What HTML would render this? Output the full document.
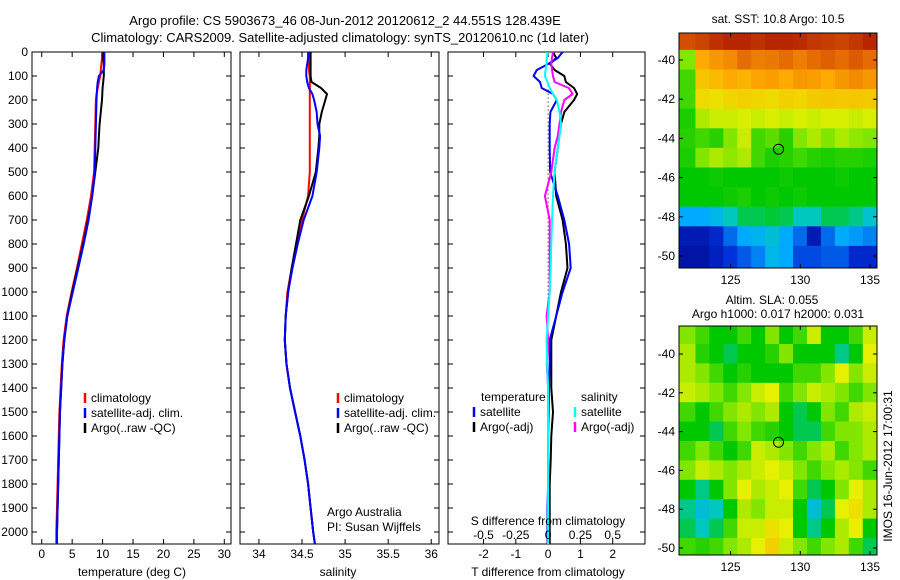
<!DOCTYPE html>
<html><head><meta charset="utf-8">
<style>
html,body{margin:0;padding:0;background:#fff;}
svg{display:block;font-family:"Liberation Sans",sans-serif;}
</style></head>
<body>
<svg id="fig" width="900" height="580" viewBox="0 0 900 580" xmlns="http://www.w3.org/2000/svg">
<text x="345" y="25" font-size="13" text-anchor="middle">Argo profile: CS 5903673_46 08-Jun-2012 20120612_2 44.551S 128.439E</text>
<text x="340" y="42" font-size="13" text-anchor="middle">Climatology: CARS2009. Satellite-adjusted climatology: synTS_20120610.nc (1d later)</text>
<g id="g"></g>
</svg>
<script>
// ---- data ----
const depths = [0,25,50,75,100,125,150,175,200,250,300,350,400,500,600,700,800,900,1000,1100,1200,1300,1400,1500,1600,1700,1800,1900,2000,2050];
const tempClim = [9.9,9.9,9.8,9.7,9.6,9.4,9.2,9.0,8.9,8.85,8.8,8.75,8.7,8.6,8.1,7.4,6.6,5.8,4.9,4.1,3.6,3.3,3.1,2.9,2.8,2.7,2.6,2.5,2.4,2.4];
const tempArgo = [10.1,10.1,10.2,10.2,10.2,10.1,10.0,9.95,9.9,9.7,9.5,9.4,9.3,8.8,8.3,7.6,6.8,5.9,5.0,4.2,3.7,3.4,3.2,3.0,2.9,2.8,2.7,2.6,2.5,2.5];
const tempSat = [10.3,10.3,10.3,10.2,9.4,9.2,9.1,9.05,9.0,8.95,8.9,8.85,8.8,8.7,8.3,7.7,6.9,6.0,5.1,4.2,3.7,3.4,3.2,3.0,2.9,2.8,2.7,2.6,2.5,2.5];
const salClim = [34.58,34.58,34.58,34.58,34.59,34.59,34.59,34.59,34.59,34.59,34.59,34.59,34.59,34.59,34.57,34.50,34.44,34.38,34.33,34.31,34.30,34.32,34.36,34.42,34.48,34.53,34.57,34.60,34.63,34.65];
const salArgo = [34.60,34.60,34.60,34.60,34.60,34.61,34.72,34.79,34.77,34.73,34.70,34.70,34.69,34.66,34.58,34.48,34.43,34.38,34.34,34.31,34.30,34.32,34.36,34.42,34.48,34.53,34.57,34.60,34.63,34.65];
const salSat = [34.57,34.57,34.56,34.55,34.55,34.56,34.58,34.62,34.64,34.67,34.68,34.71,34.70,34.67,34.62,34.52,34.45,34.39,34.34,34.31,34.30,34.32,34.36,34.42,34.48,34.53,34.57,34.60,34.63,34.65];
const dTsat = [0.45,0.3,0.0,-0.35,-0.45,-0.25,-0.2,0.15,0.27,0.07,0.05,0.05,0.05,0.06,0.3,0.5,0.65,0.7,0.45,0.25,0.05,0.05,0.03,0.02,0.0,0.0,0.0,-0.02,-0.02,-0.02];
const dTargo = [0.15,0.25,0.06,0.2,0.5,0.55,0.8,0.9,0.8,0.5,0.4,0.35,0.3,0.2,0.25,0.45,0.55,0.6,0.4,0.25,0.1,0.1,0.1,0.15,0.1,0.08,0.05,0.05,0.05,0.05];
const dSsat = [-0.005,-0.01,-0.012,-0.02,-0.025,-0.005,0.012,0.038,0.068,0.088,0.1,0.088,0.075,0.05,0.038,0.03,0.025,0.02,0.012,0,-0.012,-0.008,0,0,0,0,0,0,0,0];
const dSargo = [0.038,0.03,0.025,0.03,0.038,0.05,0.16,0.19,0.125,0.1,0.088,0.075,0.05,0.025,-0.025,0.012,0.012,0.012,0.012,-0.012,0,-0.01,0,0,0,0,0,0,0,0];
const depthTicks = [0,100,200,300,400,500,600,700,800,900,1000,1100,1200,1300,1400,1500,1600,1700,1800,1900,2000];
const tempTicks = [0,5,10,15,20,25,30];
const salTicks = [34,34.5,35,35.5,36];
const tdTicks = [-2,-1,0,1,2];
const sdTicks = [-0.5,-0.25,0,0.25,0.5];
const latTicks = [-40,-42,-44,-46,-48,-50];
const lonTicks = [125,130,135];
// map grids: rows lat -39..-50, cols lon 122..135 (colormap fraction)
const sstGrid = [
[0.9,0.92,0.95,0.97,0.97,0.95,0.97,0.97,0.96,0.94,0.93,0.92,0.94,0.97],
[0.55,0.75,0.78,0.8,0.85,0.82,0.83,0.85,0.82,0.85,0.87,0.85,0.88,0.85],
[0.5,0.7,0.72,0.75,0.73,0.76,0.77,0.75,0.78,0.77,0.75,0.78,0.8,0.78],
[0.5,0.66,0.65,0.67,0.68,0.67,0.66,0.68,0.67,0.69,0.7,0.69,0.7,0.69],
[0.47,0.58,0.6,0.6,0.61,0.6,0.61,0.6,0.61,0.6,0.61,0.61,0.6,0.61],
[0.48,0.5,0.48,0.55,0.6,0.5,0.52,0.48,0.55,0.58,0.55,0.58,0.56,0.55],
[0.47,0.55,0.58,0.56,0.58,0.5,0.47,0.48,0.5,0.48,0.47,0.48,0.48,0.47],
[0.45,0.45,0.46,0.45,0.45,0.45,0.45,0.46,0.45,0.45,0.45,0.46,0.45,0.45],
[0.45,0.45,0.45,0.46,0.47,0.45,0.46,0.45,0.46,0.45,0.45,0.45,0.45,0.45],
[0.3,0.3,0.33,0.38,0.42,0.42,0.43,0.42,0.38,0.38,0.42,0.42,0.4,0.36],
[0.08,0.08,0.12,0.22,0.3,0.32,0.35,0.3,0.22,0.08,0.22,0.3,0.28,0.25],
[0.06,0.06,0.1,0.15,0.2,0.25,0.33,0.3,0.18,0.18,0.2,0.2,0.12,0.12]];
const slaGrid = [
[0.55,0.5,0.45,0.45,0.5,0.45,0.55,0.45,0.5,0.6,0.45,0.45,0.5,0.6],
[0.58,0.48,0.45,0.42,0.45,0.45,0.48,0.55,0.45,0.45,0.45,0.4,0.45,0.62],
[0.58,0.55,0.5,0.45,0.48,0.45,0.45,0.45,0.5,0.5,0.55,0.62,0.55,0.6],
[0.6,0.58,0.55,0.5,0.55,0.6,0.62,0.5,0.55,0.6,0.58,0.55,0.5,0.55],
[0.5,0.45,0.5,0.55,0.58,0.55,0.58,0.45,0.42,0.45,0.55,0.5,0.58,0.6],
[0.45,0.45,0.42,0.5,0.55,0.5,0.48,0.45,0.42,0.42,0.5,0.55,0.55,0.58],
[0.5,0.55,0.5,0.45,0.5,0.6,0.58,0.55,0.5,0.55,0.58,0.5,0.55,0.58],
[0.55,0.6,0.58,0.55,0.58,0.6,0.62,0.6,0.55,0.5,0.55,0.58,0.55,0.5],
[0.45,0.4,0.45,0.55,0.62,0.58,0.6,0.62,0.5,0.42,0.45,0.55,0.62,0.58],
[0.4,0.35,0.38,0.45,0.58,0.55,0.6,0.6,0.45,0.35,0.42,0.62,0.65,0.58],
[0.42,0.38,0.42,0.5,0.6,0.6,0.65,0.62,0.45,0.4,0.45,0.58,0.62,0.45],
[0.5,0.48,0.5,0.55,0.58,0.62,0.68,0.6,0.55,0.5,0.55,0.58,0.5,0.42]];
const argoLat = -44.551, argoLon = 128.439;

// ---- drawing ----
const NS = "http://www.w3.org/2000/svg";
const G = document.getElementById('g');
function el(tag, attrs, parent){const e=document.createElementNS(NS,tag);for(const k in attrs)e.setAttribute(k,attrs[k]);(parent||G).appendChild(e);return e;}
function txt(x,y,s,anchor,size){const t=el('text',{x:x,y:y,'font-size':size||12,'text-anchor':anchor||'middle'});t.textContent=s;return t;}

const PT=52, PB=544;
const yD = d => PT + (d/2050)*(PB-PT);

function panel(name,x0,x1,xmin,xmax,ticks,fmt){
  const xs = v => x0 + (v-xmin)/(xmax-xmin)*(x1-x0);
  const r = el('rect',{x:x0,y:PT,width:x1-x0,height:PB-PT,fill:'none',stroke:'#000','stroke-width':1});
  
  
  depthTicks.forEach(d=>{
    el('line',{x1:x0,x2:x0+5,y1:yD(d),y2:yD(d),stroke:'#000'});
    el('line',{x1:x1-5,x2:x1,y1:yD(d),y2:yD(d),stroke:'#000'});
  });
  ticks.forEach(v=>{
    el('line',{x1:xs(v),x2:xs(v),y1:PB,y2:PB-5,stroke:'#000'});
    el('line',{x1:xs(v),x2:xs(v),y1:PT,y2:PT+5,stroke:'#000'});
    const t=txt(xs(v),558,fmt?fmt(v):String(v));
    
    
  });
  return xs;
}
function line(xs,vals,color,name,w){
  const pts = vals.map((v,i)=>xs(v).toFixed(1)+','+yD(depths[i]).toFixed(1)).join(' ');
  const p = el('polyline',{points:pts,fill:'none',stroke:color,'stroke-width':w||2,'stroke-linejoin':'round'});
  
  
}
function legend(x,y,items){
  items.forEach((it,i)=>{
    el('line',{x1:x,x2:x,y1:y+i*15-9,y2:y+i*15+1,stroke:it[0],'stroke-width':2.5});
    const t=txt(x+6,y+i*15,it[1],'start',12);
    
    
  });
}

depthTicks.forEach(d=>{
  const t=txt(28,yD(d)+4,String(d),'end',12);
  
  
});

// panel 1 temperature
const xT = panel('temperature-panel',32,231,-1.6,31.1,tempTicks);
line(xT,tempClim,'#f00','temp-climatology-line');
line(xT,tempArgo,'#000','temp-argo-line');
line(xT,tempSat,'#00f','temp-satellite-line');
legend(85,402,[['#f00','climatology'],['#00f','satellite-adj. clim.'],['#000','Argo(..raw -QC)']]);
let t=txt(132,576,'temperature (deg C)');  

// panel 2 salinity
const xS = panel('salinity-panel',240,439,33.78,36.09,salTicks);
line(xS,salClim,'#f00','sal-climatology-line');
line(xS,salArgo,'#000','sal-argo-line');
line(xS,salSat,'#00f','sal-satellite-line');
legend(338,402,[['#f00','climatology'],['#00f','satellite-adj. clim.'],['#000','Argo(..raw -QC)']]);
t=txt(338,576,'salinity');  
t=txt(327,516,'Argo Australia','start');  
t=txt(327,531,'PI: Susan Wijffels','start');  

// panel 3 differences
const xD = panel('difference-panel',448,645,-3.1,3.0,tdTicks);
const xSD = v => xD(v*4);
el('line',{x1:xD(0),x2:xD(0),y1:yD(140),y2:yD(1060),stroke:'#000','stroke-dasharray':'1,3'});
line(xD,dTargo,'#000','tdiff-argo-line');
line(xD,dTsat,'#00f','tdiff-satellite-line');
line(xSD,dSargo,'#f0f','sdiff-argo-line');
line(xSD,dSsat,'#0ff','sdiff-satellite-line');
sdTicks.forEach(v=>{const s=txt(xSD(v),539,String(v));  });
t=txt(548,525,'S difference from climatology');  
t=txt(548,576,'T difference from climatology');  
t=txt(481,401,'temperature','start');  
t=txt(581,401,'salinity','start');  
legend(474,416,[['#00f','satellite'],['#000','Argo(-adj)']]);
legend(575,416,[['#0ff','satellite'],['#f0f','Argo(-adj)']]);

// colormap
const cmapStops = [[0,[0,0,130]],[0.15,[0,50,220]],[0.3,[0,170,255]],[0.38,[0,200,190]],[0.45,[0,200,0]],[0.55,[130,230,0]],[0.62,[230,240,0]],[0.75,[255,170,0]],[0.88,[220,90,0]],[1,[170,20,0]]];
function cmap(v){
  v=Math.max(0,Math.min(1,v));
  for(let i=1;i<cmapStops.length;i++){
    if(v<=cmapStops[i][0]){
      const a=cmapStops[i-1],b=cmapStops[i],f=(v-a[0])/(b[0]-a[0]);
      const c=a[1].map((x,k)=>Math.round(x+(b[1][k]-x)*f));
      return 'rgb('+c.join(',')+')';
    }
  }
  return 'rgb(170,20,0)';
}
function map(name,grid,top,bottom,lat40,lat50,title1,title2,t1y,t2y){
  const L=679,R=877, lon0=121.3, lon1=135.5;
  const xl = lo => L+(lo-lon0)/(lon1-lon0)*(R-L);
  const yl = la => lat40+(la+40)/(-10)*(lat50-lat40);
  const clip = el('clipPath',{id:name+'-clip'}); el('rect',{x:L,y:top,width:R-L,height:bottom-top},clip);
  const g = el('g',{'clip-path':'url(#'+name+'-clip)'});
  
  
  const cw = xl(1)-xl(0), ch = yl(-41)-yl(-40);
  grid.forEach((row,i)=>row.forEach((v,j)=>{
    const la=-39-i, lo=122+j;
    let x=xl(lo-0.5), y=yl(la+0.5), w=cw, h=ch;
    if(j===0){x-=cw; w+=cw;}
    if(j===row.length-1){w+=cw;}
    if(i===0){y-=ch; h+=ch;}
    if(i===grid.length-1){h+=ch;}
    const r=el('rect',{x:x-0.3,y:y-0.3,width:w+0.6,height:h+0.6,fill:cmap(v)},g);
    
    
  }));
  el('rect',{x:L,y:top,width:R-L,height:bottom-top,fill:'none',stroke:'#000'});
  latTicks.forEach(la=>{
    el('line',{x1:L,x2:L+4,y1:yl(la),y2:yl(la),stroke:'#000'});
    el('line',{x1:R-4,x2:R,y1:yl(la),y2:yl(la),stroke:'#000'});
    const s=txt(L-4,yl(la)+4,String(la),'end');  
  });
  lonTicks.forEach(lo=>{
    el('line',{x1:xl(lo),x2:xl(lo),y1:bottom,y2:bottom-4,stroke:'#000'});
    el('line',{x1:xl(lo),x2:xl(lo),y1:top,y2:top+4,stroke:'#000'});
    const s=txt(xl(lo),bottom+16,String(lo));  
  });
  const c=el('circle',{cx:xl(argoLon),cy:yl(argoLat),r:5,fill:'none',stroke:'#000'});
  
  
  if(title1){const s=txt(772,t1y,title1);  }
  const s2=txt(778,t2y,title2);  
}
map('sst-map',sstGrid,33,268,60,256,null,'sat. SST: 10.8 Argo: 10.5',0,23);
map('sla-map',slaGrid,326,555,354,548,'Altim. SLA: 0.055','Argo h1000: 0.017 h2000: 0.031',304,318);
t=txt(0,0,'IMOS 16-Jun-2012 17:00:31');
t.setAttribute('transform','translate(892,466) rotate(-90)');


</script>
</body></html>
